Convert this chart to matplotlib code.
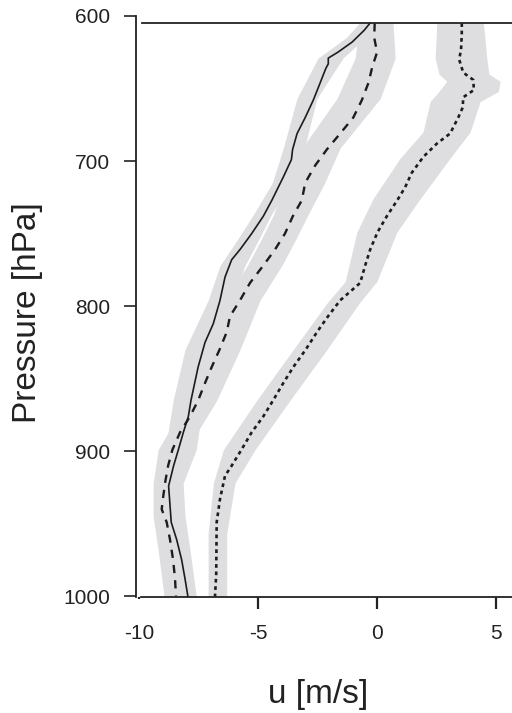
import matplotlib
matplotlib.use("Agg")
import matplotlib.pyplot as plt

plt.rcParams['font.family'] = ['Liberation Sans', 'DejaVu Sans']

# ---- data ----
solid_p = [605, 610, 618, 625, 629, 633, 636, 646, 658, 670, 681, 692, 699, 711, 727, 738, 750,
           761, 768, 780, 796, 812, 825, 842, 855, 865, 876, 887, 899, 910, 924, 933, 949, 961,
           975, 988, 1000]
solid_u = [-0.30, -0.55, -1.05, -1.65, -2.05, -2.05, -2.15, -2.39, -2.68, -3.02, -3.36, -3.55, -3.60,
           -3.94, -4.42, -4.78, -5.27, -5.76, -6.11, -6.39, -6.60, -6.88, -7.23, -7.52, -7.69, -7.82,
           -7.93, -8.14, -8.35, -8.55, -8.76, -8.72, -8.65, -8.42, -8.21, -8.07, -7.95]
solid_band_p = [605, 615, 629, 657, 691, 715, 737, 755, 772, 796, 830, 865, 899, 922, 945, 968, 1000]
solid_band_lo = [-0.75, -1.30, -2.48, -3.37, -3.94, -4.40, -5.20, -5.90, -6.60, -7.10, -8.07, -8.57,
                 -8.90, -9.20, -9.20, -8.90, -8.50]
solid_band_hi = [-0.05, -0.50, -1.43, -2.53, -3.05, -3.60, -4.45, -5.00, -5.55, -6.10, -6.90, -7.30,
                 -7.60, -8.15, -8.07, -7.86, -7.60]

dashed_p = [605, 615, 625, 635, 646, 658, 670, 681, 692, 703, 715, 727, 738, 750, 761, 772, 784, 796,
            807, 818, 830, 842, 853, 865, 876, 887, 899, 910, 922, 933, 940, 949, 961, 975, 988, 1000]
dashed_u = [-0.10, -0.12, 0.00, -0.20, -0.36, -0.64, -1.00, -1.55, -2.11, -2.60, -3.02, -3.16, -3.54,
            -3.87, -4.29, -4.78, -5.34, -5.76, -6.18, -6.32, -6.62, -6.95, -7.23, -7.52, -7.86, -8.28,
            -8.60, -8.78, -8.91, -9.00, -9.05, -8.84, -8.70, -8.57, -8.49, -8.45]
dashed_band_p = [605, 629, 657, 691, 715, 737, 755, 772, 796, 830, 865, 899, 922, 945, 968, 1000]
dashed_band_lo = [-0.75, -0.92, -1.69, -3.15, -3.90, -4.35, -4.90, -5.45, -6.40, -7.20, -8.00, -9.20,
                  -9.41, -9.41, -9.20, -8.95]
dashed_band_hi = [0.67, 0.76, 0.13, -1.55, -2.20, -2.90, -3.45, -4.00, -4.92, -5.76, -6.74, -8.00,
                  -8.40, -8.60, -8.30, -8.00]

dotted_p = [605, 612, 623, 630, 639, 644, 651, 656, 663, 670, 681, 688, 697, 708, 718, 727, 738, 749,
            761, 772, 784, 789, 796, 807, 818, 830, 842, 853, 865, 876, 887, 899, 910, 917, 933, 949,
            968, 985, 1000]
dotted_u = [3.56, 3.56, 3.53, 3.45, 3.62, 4.04, 4.07, 3.62, 3.60, 3.41, 3.07, 2.51, 1.95, 1.46, 1.18,
            0.85, 0.41, 0.02, -0.29, -0.50, -0.71, -1.06, -1.55, -2.06, -2.53, -3.00, -3.52, -3.94,
            -4.37, -4.78, -5.27, -5.70, -6.11, -6.39, -6.60, -6.74, -6.75, -6.76, -6.81]
dotted_band_p = [605, 629, 640, 645, 652, 659, 680, 698, 726, 749, 783, 798, 830, 865, 899, 922, 957,
                 1000]
dotted_band_lo = [2.51, 2.44, 2.60, 2.93, 2.60, 2.23, 1.93, 0.97, -0.17, -0.85, -1.34, -2.11, -3.52,
                  -5.06, -6.46, -6.88, -7.10, -7.10]
dotted_band_hi = [4.47, 4.61, 4.70, 5.17, 5.10, 4.33, 3.91, 3.07, 1.81, 0.83, -0.01, -0.75, -2.11,
                  -3.66, -5.13, -5.97, -6.32, -6.32]

x_ticks = [-10, -5, 0, 5]
y_ticks = [600, 700, 800, 900, 1000]

# ---- figure ----
W, H = 512, 713
fig = plt.figure(figsize=(W / 100, H / 100), dpi=100)
ax = fig.add_axes([136 / W, (H - 597) / H, (W - 136) / W, (597 - 16) / H])

band_col = '#dedee0'
line_col = '#1c1c1c'

ax.fill_betweenx(solid_band_p, solid_band_lo, solid_band_hi, color=band_col, lw=0, zorder=1)
ax.fill_betweenx(dashed_band_p, dashed_band_lo, dashed_band_hi, color=band_col, lw=0, zorder=1)
ax.fill_betweenx(dotted_band_p, dotted_band_lo, dotted_band_hi, color=band_col, lw=0, zorder=1)

ax.plot(solid_u, solid_p, color=line_col, lw=1.2, zorder=3)
ax.plot(dashed_u, dashed_p, color=line_col, lw=1.7, dashes=(3.5, 3.0), zorder=3)
ax.plot(dotted_u, dotted_p, color=line_col, lw=1.9, dashes=(1.4, 1.4), zorder=3)

ax.set_xlim(-10.13, 5.67)
ax.set_ylim(1000.5, 600)

for s in ['top', 'right']:
    ax.spines[s].set_visible(False)
ax.spines['left'].set_bounds(600, 1000.5)
ax.spines['bottom'].set_bounds(-9.92, 5.67)
ax.spines['left'].set_linewidth(1.3)
ax.spines['bottom'].set_linewidth(1.3)
ax.spines['left'].set_color('#222222')
ax.spines['bottom'].set_color('#222222')
ax.axhline(604.8, xmin=6 / 376, xmax=1.0, color='#222222', lw=1.3, zorder=4)

ax.set_xticks(x_ticks)
ax.set_xticklabels([str(v) for v in x_ticks])
ax.set_yticks(y_ticks)
ax.set_yticklabels([str(v) for v in y_ticks])
ax.tick_params(axis='x', direction='out', length=8.6, width=1.6, pad=11,
               labelsize=15, colors='#222222')
ax.tick_params(axis='y', direction='out', length=8.6, width=1.2, pad=10,
               labelsize=15, colors='#222222')
ax.xaxis.get_major_ticks()[0].tick1line.set_markersize(1.5)

fig.text(28 / W, 1 - 313 / H, 'Pressure [hPa]', rotation=90, ha='center', va='center',
         fontsize=24, color='#222222')
fig.text(318.5 / W, 1 - 694 / H, 'u [m/s]', ha='center', va='center',
         fontsize=24, color='#222222')

fig.savefig('out.png', dpi=100)
